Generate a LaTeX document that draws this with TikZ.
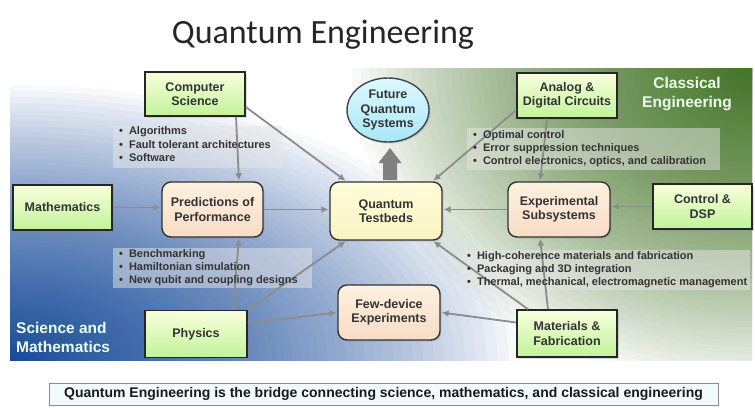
\documentclass[tikz,border=0pt]{standalone}
\usepackage{fontspec}
\setmainfont{Liberation Sans}
\newfontfamily\titlefont{Carlito}
\usetikzlibrary{arrows.meta,shapes.geometric,shadows,calc}
\definecolor{txt}{HTML}{333333}
\definecolor{arr}{HTML}{8C8C8C}
\definecolor{gtop}{HTML}{F7FFDC}
\definecolor{gbot}{HTML}{C2F29A}
\definecolor{ptop}{HTML}{FDF1DF}
\definecolor{pbot}{HTML}{F8DCC6}
\definecolor{ytop}{HTML}{FEFCDA}
\definecolor{ybot}{HTML}{FAF4C0}
\definecolor{ctop}{HTML}{DDF9FF}
\definecolor{cbot}{HTML}{A9E7F6}
\definecolor{capfill}{HTML}{F3FAFE}
\definecolor{blueglowc}{RGB}{22,76,158}
\definecolor{greenglowc}{RGB}{68,120,38}
\tikzset{
  lbl/.style={text=txt, font=\fontsize{12.5}{14.5}\selectfont\bfseries, align=center},
  greenbox/.style={lbl, rectangle, draw=black!85, line width=1.6pt, top color=gtop, bottom color=gbot,
    minimum width=100pt, inner sep=0pt, drop shadow={opacity=0.25, shadow xshift=1.5pt, shadow yshift=-1.5pt}},
  peachbox/.style={lbl, rectangle, rounded corners=9pt, draw=black!80, line width=1.4pt, top color=ptop, bottom color=pbot,
    inner sep=0pt, drop shadow={opacity=0.25, shadow xshift=1.5pt, shadow yshift=-1.5pt}},
  yellowbox/.style={peachbox, top color=ytop, bottom color=ybot},
  notetext/.style={text=txt, font=\fontsize{11}{13.4}\selectfont\bfseries, align=left, anchor=north west, inner sep=0pt},
  conn/.style={draw=arr, line width=1.8pt, -{Latex[length=7pt,width=7pt]}, shorten >=1pt},
  regiontext/.style={text=white!92!green, font=\fontsize{15.5}{19}\selectfont\bfseries, align=left, inner sep=0pt}
}
\begin{document}
\begin{tikzpicture}[x=1pt,y=-1pt]
\useasboundingbox (0,0) rectangle (755,407);
\fill[white] (0,0) rectangle (755,407);
% background panel
\begin{scope}
  \clip (10,68) rectangle (752,360);
  \fill[white] (10,68) rectangle (752,360);
  \foreach \i in {0,...,89} {
    \pgfmathsetmacro{\fr}{(1-\i/90)^2}
    \fill[greenglowc, fill opacity=0.03] (752,68) ellipse [x radius={400*\fr}, y radius={320*\fr}];
    \fill[blueglowc, fill opacity=0.03] (10,360) ellipse [x radius={510*\fr}, y radius={275*\fr}];
  }
\end{scope}
% title
\node[font=\titlefont\fontsize{34}{38}\selectfont, text=black!85, inner sep=0pt] (title) at (323,35) {Quantum Engineering};
% region labels
\node[regiontext, anchor=west] (sci) at (16,337) {Science and\\Mathematics};
\node[regiontext, align=center] (cla) at (687,94) {Classical\\Engineering};
% note backgrounds
\fill[white!80!gray, fill opacity=0.5] (113,126) rectangle (282,168);
\fill[white!80!gray, fill opacity=0.5] (113,248) rectangle (312,288);
\fill[white!80!gray, fill opacity=0.5] (467,128) rectangle (720,170);
\fill[white!80!gray, fill opacity=0.5] (462,250) rectangle (750,290);
% nodes
\node[greenbox, minimum height=44pt] (cs) at (195,94) {Computer\\Science};
\node[greenbox, minimum height=45pt, minimum width=99pt] (math) at (62.5,207.5) {Mathematics};
\node[greenbox, minimum height=47pt, minimum width=102pt] (phys) at (196,334) {Physics};
\node[greenbox, minimum height=45pt] (adc) at (567,95.5) {Analog \&\\Digital Circuits};
\node[greenbox, minimum height=45pt, minimum width=99pt] (dsp) at (702.5,206.5) {Control \&\\DSP};
\node[greenbox, minimum height=47pt] (mat) at (567,333.5) {Materials \&\\Fabrication};
\node[peachbox, minimum width=101pt, minimum height=55pt] (pred) at (212.5,209.5) {Predictions of\\Performance};
\node[yellowbox, minimum width=112pt, minimum height=58pt] (qt) at (386,211) {Quantum\\Testbeds};
\node[peachbox, minimum width=102pt, minimum height=55pt] (exp) at (559,209.5) {Experimental\\Subsystems};
\node[peachbox, minimum width=102pt, minimum height=55pt] (few) at (389,312.5) {Few-device\\Experiments};
\node[lbl, ellipse, draw=black!80!cyan, line width=1.4pt, top color=ctop, bottom color=cbot,
  minimum width=82pt, minimum height=64pt, inner sep=0pt,
  drop shadow={opacity=0.25, shadow xshift=1.5pt, shadow yshift=-1.5pt}] (fqs) at (388,110) {Future\\Quantum\\Systems};
% big up arrow
\coordinate (bigtip) at (390,148);
\fill[black!50] (bigtip) -- (401.5,163) -- (397,163) -- (397,180) -- (383,180) -- (383,163) -- (378.5,163) -- cycle;
% connectors
\draw[conn] ([xshift=41pt]cs.south) -- ([xshift=26.5pt]pred.north);
\draw[conn] ([yshift=-13pt]cs.east) -- ([xshift=17pt]qt.north west);
\draw[conn] (math.east) -- (math.east -| pred.west);
\draw[conn] (pred.east) -- (pred.east -| qt.west);
\draw[conn] ([xshift=37pt]phys.north) -- ([xshift=26.5pt]pred.south);
\draw[conn] (phys.north east) -- ([xshift=17pt]qt.south west);
\draw[conn] ([yshift=11pt]phys.east) -- (few.west);
\draw[conn] ([yshift=-14.5pt]adc.west) -- ([xshift=-10pt]qt.north east);
\draw[conn] ([xshift=-20pt]adc.south) -- ([xshift=-19pt]exp.north);
\draw[conn] (dsp.west) -- (dsp.west -| exp.east);
\draw[conn] (exp.west) -- (exp.west -| qt.east);
\draw[conn] ([xshift=-39pt]mat.north) -- ([xshift=-10pt]qt.south east);
\draw[conn] ([xshift=-19pt]mat.north) -- ([xshift=-19pt]exp.south);
\draw[conn] ([yshift=11pt]mat.west) -- (few.east);
% note texts
\node[notetext] (n1) at (119,126.5) {•\hspace{6pt}Algorithms\\•\hspace{6pt}Fault tolerant architectures\\•\hspace{6pt}Software};
\node[notetext] (n2) at (119,249) {•\hspace{6pt}Benchmarking\\•\hspace{6pt}Hamiltonian simulation\\•\hspace{6pt}New qubit and coupling designs};
\node[notetext] (n3) at (473,130) {•\hspace{6pt}Optimal control\\•\hspace{6pt}Error suppression techniques\\•\hspace{6pt}Control electronics, optics, and calibration};
\node[notetext] (n4) at (467,251) {•\hspace{6pt}High-coherence materials and fabrication\\•\hspace{6pt}Packaging and 3D integration\\•\hspace{6pt}Thermal, mechanical, electromagnetic management};
% caption
\node[draw=black!45, line width=0.8pt, fill=capfill, minimum width=669pt, minimum height=22pt, inner sep=0pt,
  font=\fontsize{14}{16}\selectfont\bfseries, text=black!90] (cap) at (383.5,394) {Quantum Engineering is the bridge connecting science, mathematics, and classical engineering};
\end{tikzpicture}
\end{document}
